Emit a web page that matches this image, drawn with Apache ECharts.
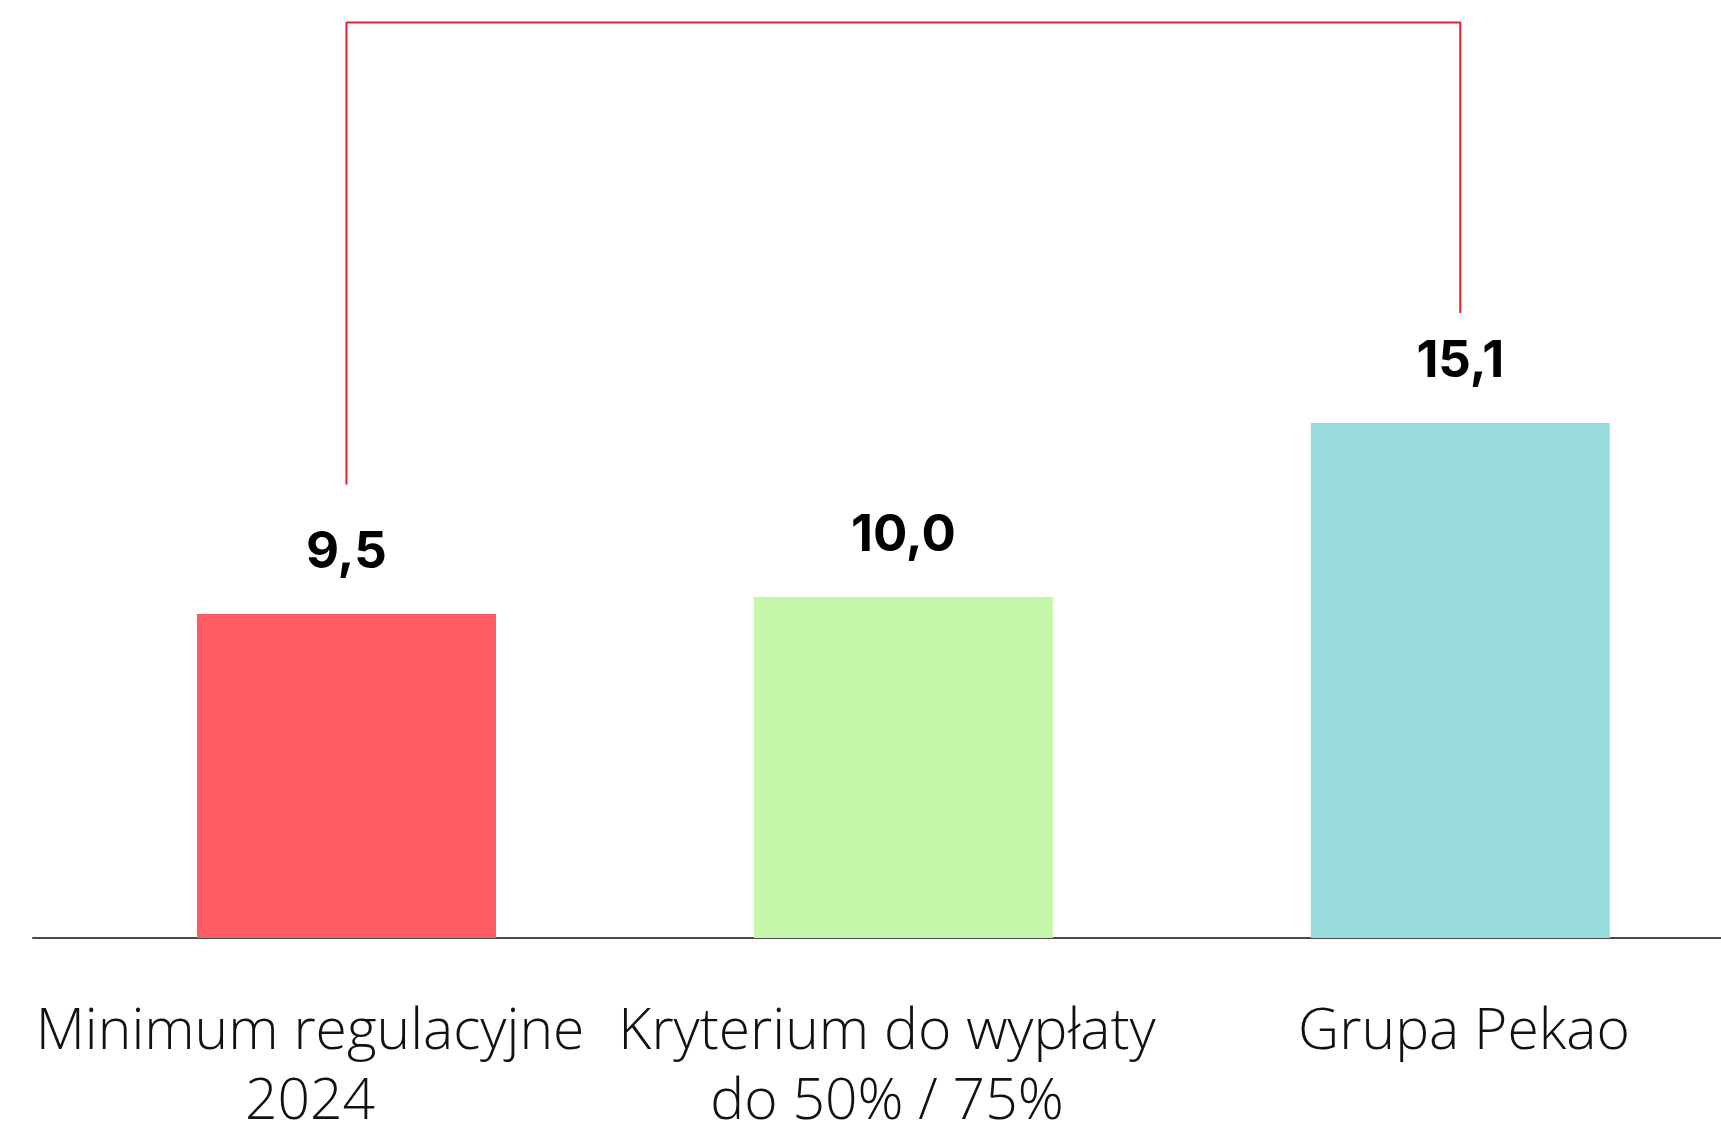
<!DOCTYPE html>
<html>
<head>
<meta charset="utf-8">
<script src="https://cdn.jsdelivr.net/npm/echarts@6/dist/echarts.min.js"></script>
<style>
html,body{margin:0;padding:0;background:#fff;}
#chart{width:1721px;height:1122px;}
</style>
</head>
<body>
<div id="chart"></div>
<script>
// ---- data ----
var categories = ['Minimum regulacyjne\n2024', 'Kryterium do wypłaty\ndo 50% / 75%', 'Grupa Pekao'];
var values = [9.5, 10.0, 15.1];
var barColors = ['#FF5C63', '#C4F7AA', '#98DBDF'];
// bracket (annotation) values in chart units
var bracketLeftBottom = 13.3;
var bracketTop = 26.85;
var bracketRightBottom = 18.33;

var chart = echarts.init(document.getElementById('chart'), null, {renderer: 'canvas'});

var option = {
  backgroundColor: '#ffffff',
  animation: false,
  grid: [
    {left: 68, right: -17.75, top: 17.3, bottom: 184, outerBoundsMode: 'none', containLabel: false},
    {left: 21.5, right: -31.5, top: 17.3, bottom: 184, outerBoundsMode: 'none', containLabel: false},
    {left: 33, right: 0, top: 17.3, bottom: 184, outerBoundsMode: 'none', containLabel: false}
  ],
  xAxis: [
    {gridIndex: 0, type: 'category', data: categories, axisLine: {show: false}, axisTick: {show: false}, axisLabel: {show: false}, splitLine: {show: false}},
    {gridIndex: 1, type: 'category', data: categories, axisLine: {show: false}, axisTick: {show: false}, splitLine: {show: false},
      axisLabel: {show: true, interval: 0, margin: 60, color: '#111111', fontFamily: 'Open Sans', fontWeight: 300, fontSize: 57, lineHeight: 70, align: 'center'}},
    {gridIndex: 2, type: 'category', data: categories, axisTick: {show: false}, axisLabel: {show: false}, splitLine: {show: false},
      axisLine: {show: true, lineStyle: {color: '#4a4a4a', width: 2}}}
  ],
  yAxis: [
    {gridIndex: 0, type: 'value', min: 0, max: 27, show: false, splitLine: {show: false}},
    {gridIndex: 1, type: 'value', min: 0, max: 27, show: false, splitLine: {show: false}},
    {gridIndex: 2, type: 'value', min: 0, max: 27, show: false, splitLine: {show: false}}
  ],
  series: [
    {
      type: 'bar',
      xAxisIndex: 0, yAxisIndex: 0,
      barWidth: 299,
      data: values.map(function (v, i) { return {value: v, itemStyle: {color: barColors[i]}}; }),
      label: {
        show: true, position: 'top', distance: 36,
        color: '#000000', fontFamily: 'Inter', fontWeight: 700, fontSize: 51,
        formatter: function (p) { return p.value.toFixed(1).replace('.', ','); }
      }
    },
    {
      type: 'line',
      xAxisIndex: 0, yAxisIndex: 0,
      clip: false,
      symbol: 'none',
      silent: true,
      lineStyle: {color: '#E2222D', width: 2},
      data: [[0, bracketLeftBottom], [0, bracketTop], [2, bracketTop], [2, bracketRightBottom]]
    }
  ]
};
chart.setOption(option);
</script>
</body>
</html>
